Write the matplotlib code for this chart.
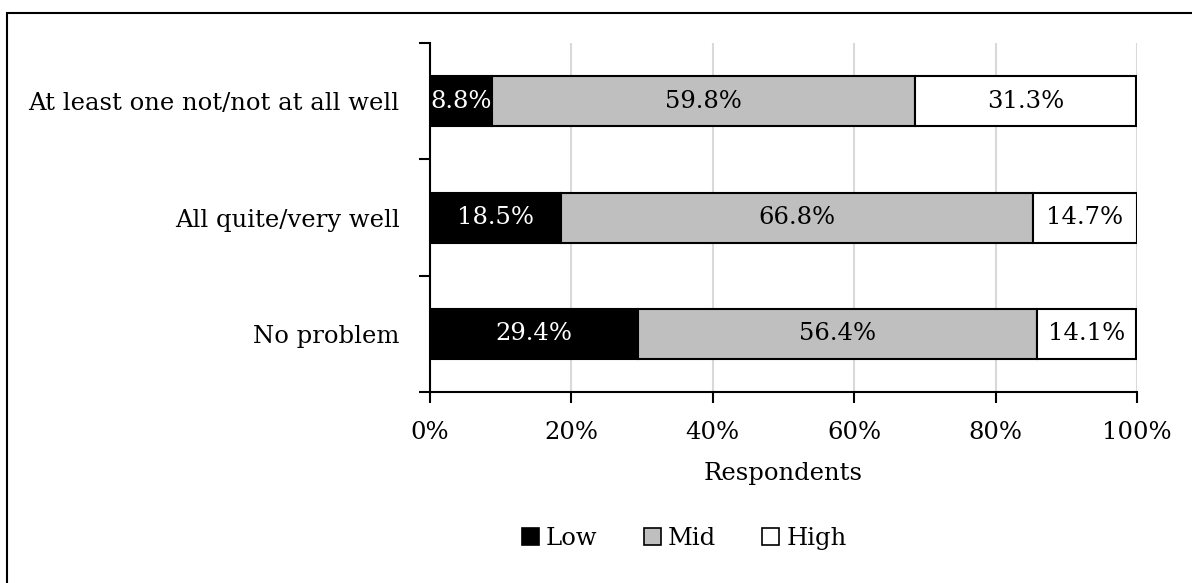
import matplotlib.pyplot as plt
import numpy as np
from matplotlib.patches import Patch, Rectangle

plt.rcParams['font.family'] = ['DejaVu Serif']

# Share of respondents per group (percent)
groups = ["No problem", "All quite/very well", "At least one not/not at all well"]
low = [29.4, 18.5, 8.8]
mid = [56.4, 66.8, 59.8]
high = [14.1, 14.7, 31.3]
series_names = ["Low", "Mid", "High"]
fills = ["#000000", "#bfbfbf", "#ffffff"]
text_colors = ["white", "black", "black"]

FS = 17.5

fig = plt.figure(figsize=(11.92, 5.83), dpi=100)
ax = fig.add_axes([0.3607, 0.3276, 0.5931, 0.5986])

y = np.arange(len(groups))
left = np.zeros(len(groups))
for vals, name, fc, tc in zip([low, mid, high], series_names, fills, text_colors):
    bars = ax.barh(y, vals, left=left, height=0.43, color=fc,
                   edgecolor="black", linewidth=1.5, label=name, zorder=3)
    for b, v in zip(bars, vals):
        ax.text(b.get_x() + b.get_width() / 2, b.get_y() + b.get_height() / 2,
                f"{v:.1f}%", ha="center", va="center", color=tc,
                fontsize=FS, zorder=4)
    left += np.array(vals)

ax.set_xlim(0, 100)
ax.set_ylim(-0.5, 2.5)
ax.set_xticks(np.arange(0, 101, 20))
ax.set_xticklabels([f"{t}%" for t in range(0, 101, 20)], fontsize=FS)
ax.set_yticks(y)
ax.set_yticklabels(groups, fontsize=FS)
ax.set_yticks([-0.5, 0.5, 1.5, 2.5], minor=True)
ax.tick_params(axis="y", which="major", length=0, pad=22)
ax.tick_params(axis="y", which="minor", length=8, width=1.5, direction="out")
ax.tick_params(axis="x", length=8, width=1.5, direction="out", pad=13)
ax.xaxis.grid(True, color="#d9d9d9", linewidth=1.5, zorder=0)
ax.set_axisbelow(True)
for s in ["top", "right"]:
    ax.spines[s].set_visible(False)
for s in ["left", "bottom"]:
    ax.spines[s].set_linewidth(1.5)
ax.set_xlabel("Respondents", fontsize=FS, labelpad=13)

handles = [Patch(facecolor=fc, edgecolor="black", linewidth=1.2, label=n)
           for fc, n in zip(fills, series_names)]
fig.legend(handles=handles, loc="center", bbox_to_anchor=(0.574, 0.077),
           ncol=3, frameon=False, fontsize=FS, handlelength=0.7,
           handleheight=0.7, handletextpad=0.3, columnspacing=1.9)

# chart frame: only its top and left edges fall inside the image
fig.patches.append(Rectangle((7.5 / 1192, -0.1), 1.2, 1.1 - 13 / 583,
                             transform=fig.transFigure, fill=False,
                             edgecolor="black", linewidth=1.5))

fig.savefig("out.png", dpi=100)
